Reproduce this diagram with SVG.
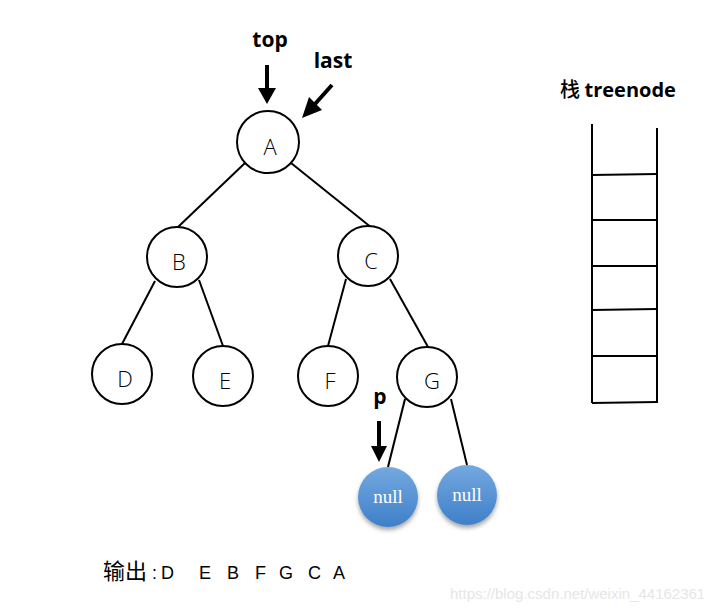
<svg xmlns="http://www.w3.org/2000/svg" width="728" height="610" viewBox="0 0 728 610">
<style>
.node circle{fill:#fff;stroke:#000;stroke-width:2}
.lbl{font-family:"Open Sans","Noto Sans","Liberation Sans",sans-serif;font-weight:300;font-size:22px;fill:#000;text-anchor:middle}
.edge{stroke:#000;stroke-width:2;fill:none}
.bold{font-family:"Open Sans","Noto Sans","Liberation Sans","Noto Sans CJK SC",sans-serif;font-weight:700;font-size:21px;fill:#000}
.null circle{fill:url(#blue);filter:url(#sh)}
.nl{font-family:"Liberation Serif",serif;font-size:19px;fill:#fff;text-anchor:middle}
.arrow{stroke:#000;stroke-width:4;fill:none}
.stack{stroke:#000;stroke-width:2;fill:none}
.out{font-family:"Liberation Sans","Noto Sans CJK SC",sans-serif;font-size:18px;fill:#000}
</style>
<defs>
<linearGradient id="blue" x1="0" y1="0" x2="0" y2="1">
<stop offset="0" stop-color="#74a8df"/>
<stop offset="1" stop-color="#3f80c9"/>
</linearGradient>
<filter id="sh" x="-30%" y="-30%" width="160%" height="170%">
<feDropShadow dx="0" dy="3" stdDeviation="2" flood-color="#000" flood-opacity="0.35"/>
</filter>
</defs>
<rect width="728" height="610" fill="#fff"/>
<g id="connectors">
<line class="edge" x1="245" y1="163" x2="178" y2="227"/>
<line class="edge" x1="291" y1="163" x2="372" y2="228"/>
<line class="edge" x1="155" y1="281" x2="122" y2="344"/>
<line class="edge" x1="199" y1="280" x2="223" y2="346"/>
<line class="edge" x1="346" y1="279" x2="328" y2="346"/>
<line class="edge" x1="390" y1="279" x2="428" y2="347"/>
<line class="edge" x1="405" y1="399" x2="388" y2="467"/>
<line class="edge" x1="451" y1="399" x2="467" y2="465"/>
<g id="top-arrow"><line class="arrow" x1="267" y1="65" x2="267" y2="89"/><polygon points="258,88 276,88 267,104" fill="#000"/></g>
<g id="last-arrow"><line class="arrow" x1="332" y1="85" x2="315" y2="104"/><polygon points="309,97 322,110 302,118" fill="#000"/></g>
<g id="p-arrow"><line class="arrow" x1="379" y1="421" x2="379" y2="447"/><polygon points="371,446 387,446 379,462" fill="#000"/></g>
</g>
<text class="bold" x="270" y="47" text-anchor="middle">top</text>
<text class="bold" x="333" y="68" text-anchor="middle">last</text>
<text class="bold" x="380" y="404" text-anchor="middle">p</text>
<g id="A" class="node"><circle cx="268" cy="142" r="31"/><text class="lbl" x="270" y="155">A</text></g>
<g id="B" class="node"><circle cx="177" cy="257" r="30"/><text class="lbl" x="179" y="270">B</text></g>
<g id="C" class="node"><circle cx="368" cy="256" r="30"/><text class="lbl" x="371" y="269">C</text></g>
<g id="D" class="node"><circle cx="122" cy="374" r="30"/><text class="lbl" x="125" y="387">D</text></g>
<g id="E" class="node"><circle cx="223" cy="376" r="30"/><text class="lbl" x="225" y="389">E</text></g>
<g id="F" class="node"><circle cx="328" cy="376" r="30"/><text class="lbl" x="330" y="389">F</text></g>
<g id="G" class="node"><circle cx="427" cy="377" r="30"/><text class="lbl" x="432" y="389">G</text></g>
<g id="null1" class="null"><circle cx="388" cy="497" r="30"/><text class="nl" x="388" y="503">null</text></g>
<g id="null2" class="null"><circle cx="467" cy="495" r="30"/><text class="nl" x="467" y="501">null</text></g>
<g id="stack">
<text x="560" y="97" font-family="'Noto Sans CJK SC','Open Sans',sans-serif" font-size="20" font-weight="500">栈 <tspan font-family="'Open Sans','Noto Sans',sans-serif" font-weight="700">treenode</tspan></text>
<line class="stack" x1="592" y1="124" x2="592" y2="403"/>
<line class="stack" x1="657" y1="128" x2="657" y2="403"/>
<line class="stack" x1="592" y1="175" x2="657" y2="174"/>
<line class="stack" x1="592" y1="220" x2="657" y2="220"/>
<line class="stack" x1="592" y1="266" x2="657" y2="266"/>
<line class="stack" x1="592" y1="310" x2="657" y2="309"/>
<line class="stack" x1="592" y1="356" x2="657" y2="356"/>
<line class="stack" x1="592" y1="403" x2="657" y2="402"/>
</g>
<text class="out" y="579"><tspan x="103" font-size="22" font-family="'Noto Sans CJK SC',sans-serif" font-weight="400">输出</tspan><tspan x="152">:</tspan><tspan x="161">D</tspan><tspan x="199">E</tspan><tspan x="227">B</tspan><tspan x="255">F</tspan><tspan x="279">G</tspan><tspan x="308">C</tspan><tspan x="333">A</tspan></text>
<text x="450" y="599" font-family="'Liberation Sans',sans-serif" font-size="15" fill="#e6e6e6">https://blog.csdn.net/weixin_44162361</text>
</svg>
